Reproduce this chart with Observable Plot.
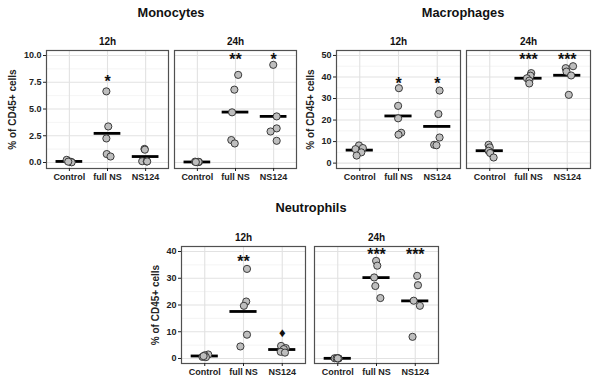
<!DOCTYPE html>
<html><head><meta charset="utf-8">
<script src="https://cdn.jsdelivr.net/npm/d3@7"></script>
<script src="https://cdn.jsdelivr.net/npm/@observablehq/plot@0.6"></script>
<style>
body{margin:0;background:#fff;}
#chart{position:relative;width:600px;height:389px;overflow:hidden;font-family:"Liberation Sans",Arial,sans-serif;}
.title{position:absolute;font-weight:bold;font-size:12.8px;color:#111;transform:translateX(-50%);white-space:nowrap;line-height:1;}
.panel{position:absolute;}
g[aria-label="y-axis label"] text{font-size:10px;}
</style></head><body><div id="chart"></div>
<script>
const categories = ["Control", "full NS", "NS124"];
const times = ["12h", "24h"];
const yLabel = "% of CD45+ cells";

// Monocytes
const monoTitle = "Monocytes";
const mono12 = [[0.25, 0.05, 0.10, 0.02, 0.08], [6.65, 3.37, 2.25, 0.79, 0.56], [1.27, 1.20, 0.12, 0.10, 0.10]];
const mono12Jit = [[-0.07, 0.05, 0.00, 0.06, -0.03], [-0.03, 0.02, -0.03, -0.02, 0.08], [-0.03, -0.02, -0.09, 0.03, 0.04]];
const mono24 = [[0.08, 0.05, 0.02, 0.06, 0.04], [8.19, 6.81, 4.69, 2.10, 1.78], [9.13, 4.31, 3.19, 2.90, 2.03]];
const mono24Jit = [[-0.06, 0.04, 0.00, 0.03, -0.04], [0.07, -0.03, -0.09, -0.11, -0.02], [-0.01, 0.08, 0.08, -0.08, 0.08]];
const monoSigTime = ["12h", "24h", "24h"];
const monoSigCat = ["full NS", "full NS", "NS124"];
const monoSigText = ["*", "**", "*"];
const monoSigY = [7.9, 10.0, 10.0];
const monoTicks = [0, 2.5, 5, 7.5, 10];
const monoMinor = [1.25, 3.75, 6.25, 8.75];
const monoDomain = [-0.56, 10.47];

// Macrophages
const macroTitle = "Macrophages";
const macro12 = [[8.2, 7.0, 6.5, 5.0, 3.5], [34.8, 26.6, 20.8, 14.1, 13.2], [33.7, 22.8, 11.9, 8.5, 8.3]];
const macro12Jit = [[-0.02, 0.08, -0.11, 0.04, -0.08], [0.01, -0.01, -0.01, 0.07, 0.00], [0.06, 0.03, 0.06, -0.08, -0.02]];
const macro24 = [[8.5, 7.3, 5.7, 4.7, 2.6], [41.8, 40.6, 39.4, 38.3, 37.0], [45.0, 44.1, 42.5, 40.7, 31.7]];
const macro24Jit = [[-0.03, 0.00, -0.03, 0.01, 0.10], [0.07, 0.05, -0.04, 0.02, 0.02], [0.15, -0.04, -0.02, 0.10, 0.04]];
const macroSigTime = ["12h", "12h", "24h", "24h"];
const macroSigCat = ["full NS", "NS124", "full NS", "NS124"];
const macroSigText = ["*", "*", "***", "***"];
const macroSigY = [38.8, 38.8, 50, 50];
const macroTicks = [0, 10, 20, 30, 40, 50];
const macroMinor = [5, 15, 25, 35, 45];
const macroDomain = [-2.5, 52.3];

// Neutrophils
const neutTitle = "Neutrophils";
const neut12 = [[1.5, 1.2, 0.6, 0.5, 0.9], [33.5, 21.3, 19.7, 8.9, 4.5], [4.7, 3.9, 3.5, 2.5, 2.2]];
const neut12Jit = [[0.09, 0.00, -0.06, 0.03, -0.03], [0.09, 0.07, 0.01, 0.09, -0.08], [-0.03, 0.09, 0.04, -0.04, 0.07]];
const neut24 = [[0.10, 0.05, 0.10, 0.02, 0.05], [36.5, 34.7, 30.3, 27.1, 22.6], [30.9, 27.4, 21.6, 19.7, 8.1]];
const neut24Jit = [[-0.08, 0.02, -0.03, 0.02, 0.00], [-0.01, 0.02, -0.06, -0.03, 0.10], [0.05, 0.07, -0.04, 0.12, -0.07]];
const neutSigTime = ["12h", "24h", "24h"];
const neutSigCat = ["full NS", "full NS", "NS124"];
const neutSigText = ["**", "***", "***"];
const neutSigY = [37.8, 40.3, 40.3];
const neutMarkTime = ["12h"];
const neutMarkCat = ["NS124"];
const neutMarkText = ["\u2666"];
const neutMarkY = [10.1];
const neutTicks = [0, 10, 20, 30, 40];
const neutMinor = [5, 15, 25, 35];
const neutDomain = [-1.87, 41.87];

function rows(byTime, jitByTime) {
  const out = [];
  times.forEach((t, ti) => byTime[ti].forEach((vals, ci) => vals.forEach((v, k) =>
    out.push({time: t, idx: ci, value: v, jit: jitByTime[ti][ci][k]}))));
  return out;
}
function meanRows(byTime) {
  const out = [];
  times.forEach((t, ti) => byTime[ti].forEach((vals, ci) => out.push({time: t, idx: ci, mean: d3.mean(vals)})));
  return out;
}
function sigRows(ts, cs, txt, ys) {
  return ts.map((t, i) => ({time: t, idx: categories.indexOf(cs[i]), label: txt[i], y: ys[i]}));
}

function panel(cfg) {
  const pts = rows(cfg.data, cfg.jit);
  const means = meanRows(cfg.data);
  const sig = sigRows(cfg.sigTime, cfg.sigCat, cfg.sigText, cfg.sigY);
  const marks = [
    Plot.gridY(cfg.minor, {stroke: "#ececec", strokeOpacity: 1, strokeWidth: 0.6}),
    Plot.gridY(cfg.ticks, {stroke: "#e2e2e2", strokeOpacity: 1, strokeWidth: 1.1}),
    Plot.gridX([0, 1, 2], {stroke: "#e2e2e2", strokeOpacity: 1, strokeWidth: 1.1}),
    Plot.ruleY(means, {fx: "time", y: "mean", x1: d => d.idx - 0.35, x2: d => d.idx + 0.35, stroke: "#000", strokeWidth: 2.8}),
    Plot.dot(pts, {fx: "time", x: d => d.idx + d.jit, y: "value", r: 3.6, fill: "#bebebe", stroke: "#2a2a2a", strokeWidth: 0.9}),
    Plot.text(sig, {fx: "time", x: "idx", y: "y", text: "label", fontSize: 16, fontWeight: "bold", fill: "#111", dy: 4}),
    Plot.frame({stroke: "#505050", strokeWidth: 1.2}),
    Plot.axisY({ticks: cfg.ticks, tickFormat: cfg.fmt, tickSize: 3, tickPadding: 2, fontSize: 9, fontWeight: "bold", color: "#222",
      label: yLabel, labelAnchor: "center", labelArrow: "none", labelOffset: cfg.labelOffset}),
    Plot.axisX({ticks: [0, 1, 2], tickFormat: i => categories[i], tickSize: 3, tickPadding: 2, fontSize: 9, fontWeight: "bold", color: "#222", label: null}),
    Plot.axisFx({anchor: "top", tickSize: 0, tickPadding: 6, fontSize: 10, fontWeight: "bold", color: "#111", label: null})
  ];
  if (cfg.mark) {
    const m = sigRows(cfg.mark.time, cfg.mark.cat, cfg.mark.text, cfg.mark.y);
    marks.push(Plot.text(m, {fx: "time", x: "idx", y: "y", text: "label", fontSize: 13, fill: "#111", dy: 1}));
  }
  const svg = Plot.plot({
    width: cfg.width, height: cfg.height,
    marginLeft: cfg.ml, marginRight: cfg.mr, marginTop: cfg.mt, marginBottom: cfg.mb,
    style: {fontFamily: "'Liberation Sans', Arial, sans-serif", background: "transparent", overflow: "visible"},
    fx: {domain: times, paddingInner: cfg.pad, paddingOuter: 0, label: null},
    x: {domain: [-0.6, 2.6]},
    y: {domain: cfg.domain},
    marks
  });
  const wrap = document.createElement("div");
  wrap.className = "panel";
  wrap.style.left = cfg.left + "px";
  wrap.style.top = cfg.top + "px";
  wrap.appendChild(svg);
  document.getElementById("chart").appendChild(wrap);
  const t = document.createElement("div");
  t.className = "title";
  t.textContent = cfg.title;
  t.style.left = cfg.titleX + "px";
  t.style.top = cfg.titleY + "px";
  document.getElementById("chart").appendChild(t);
}

panel({title: monoTitle, titleX: 171, titleY: 6.5, data: [mono12, mono24], jit: [mono12Jit, mono24Jit],
  sigTime: monoSigTime, sigCat: monoSigCat, sigText: monoSigText, sigY: monoSigY,
  ticks: monoTicks, minor: monoMinor, domain: monoDomain, fmt: d3.format(".1f"),
  left: 0, top: 0, width: 300, height: 190, ml: 46, mr: 4, mt: 50, mb: 22, pad: 0.05, labelOffset: 38});
panel({title: macroTitle, titleX: 463, titleY: 6.5, data: [macro12, macro24], jit: [macro12Jit, macro24Jit],
  sigTime: macroSigTime, sigCat: macroSigCat, sigText: macroSigText, sigY: macroSigY,
  ticks: macroTicks, minor: macroMinor, domain: macroDomain, fmt: d3.format("d"),
  left: 300, top: 0, width: 300, height: 190, ml: 36, mr: 10, mt: 50, mb: 22, pad: 0.05, labelOffset: 30});
panel({title: neutTitle, titleX: 311, titleY: 201.75, data: [neut12, neut24], jit: [neut12Jit, neut24Jit],
  sigTime: neutSigTime, sigCat: neutSigCat, sigText: neutSigText, sigY: neutSigY,
  mark: {time: neutMarkTime, cat: neutMarkCat, text: neutMarkText, y: neutMarkY},
  ticks: neutTicks, minor: neutMinor, domain: neutDomain, fmt: d3.format("d"),
  left: 130, top: 195, width: 320, height: 194, ml: 51, mr: 12, mt: 51, mb: 26, pad: 0.07, labelOffset: 30});
</script></body></html>
